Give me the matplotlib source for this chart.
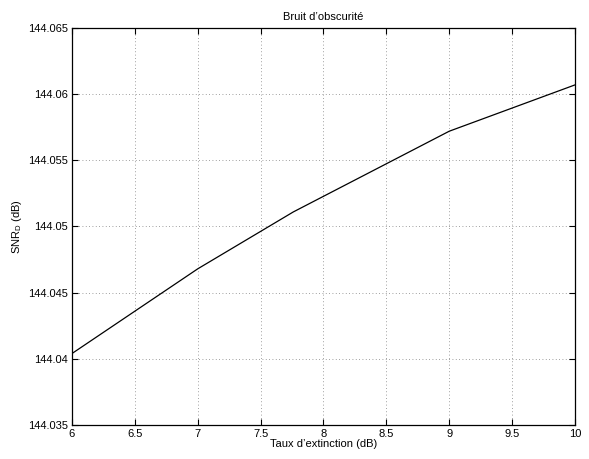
import matplotlib
matplotlib.use("Agg")
import matplotlib.pyplot as plt
import numpy as np

# Donnees
taux = [6, 7, 7.76, 9, 10]
snr_d = [144.0404, 144.0468, 144.0511, 144.0572, 144.0607]

x_ticks = [6, 6.5, 7, 7.5, 8, 8.5, 9, 9.5, 10]
y_ticks = [144.035, 144.04, 144.045, 144.05, 144.055, 144.06, 144.065]

plt.rcParams['font.family'] = ['Liberation Sans', 'DejaVu Sans']
plt.rcParams['mathtext.fontset'] = 'custom'
plt.rcParams['mathtext.rm'] = 'Liberation Sans'
plt.rcParams['mathtext.it'] = 'Liberation Sans'

fig = plt.figure(figsize=(5.89, 4.59), dpi=100)
ax = fig.add_axes([0.1222, 0.0741, 0.854, 0.8649])

ax.plot(taux, snr_d, color='black', linewidth=0.9)

ax.set_xlim(6, 10)
ax.set_ylim(144.035, 144.065)
ax.set_xticks(x_ticks)
ax.set_xticklabels(["%g" % v for v in x_ticks])
ax.set_yticks(y_ticks)
ax.set_yticklabels(["%g" % v for v in y_ticks])

ax.grid(True, linestyle=(0, (1, 3)), color='#808080', linewidth=0.6)
ax.tick_params(direction='in', length=4, width=0.8, top=True, right=True,
               labelsize=8, pad=3)
for s in ax.spines.values():
    s.set_linewidth(0.9)

ax.set_title("Bruit d\u2019obscurit\u00e9", fontsize=8, pad=6)
ax.set_xlabel("Taux d\u2019extinction (dB)", fontsize=8, labelpad=0)
ax.set_ylabel(r"SNR$_{\mathrm{D}}$ (dB)", fontsize=8, labelpad=3)

fig.savefig("out.png", dpi=100)
